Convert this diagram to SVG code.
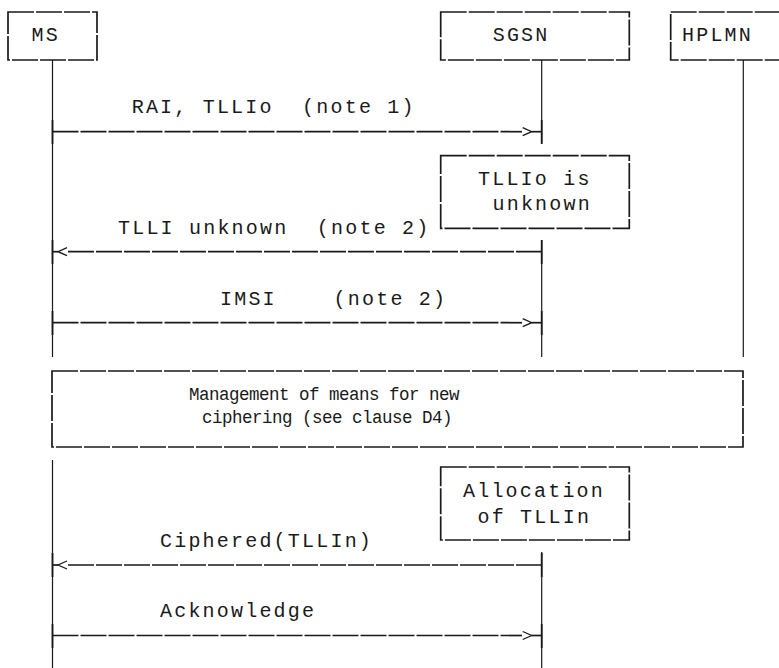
<svg xmlns="http://www.w3.org/2000/svg" width="779" height="668" viewBox="0 0 779 668">
<style>
.bg{fill:#fff}
.box{fill:none;stroke:#1a1a1a;stroke-width:1.7;stroke-dasharray:26 2}
.life{stroke:#1a1a1a;stroke-width:1.2;fill:none}
.msg{stroke:#1a1a1a;stroke-width:1.7;fill:none;stroke-dasharray:26 2}
.tick{stroke:#1a1a1a;stroke-width:1.8}
.head{stroke:#1a1a1a;stroke-width:1.3;fill:none}
.t{font-family:"Liberation Mono","DejaVu Sans Mono",monospace;font-size:20px;letter-spacing:2.2px;fill:#1a1a1a;white-space:pre}
.s{font-family:"Liberation Mono","DejaVu Sans Mono",monospace;font-size:17.5px;letter-spacing:-0.5px;fill:#1a1a1a;white-space:pre}
</style>
<rect class="bg" x="0" y="0" width="779" height="668"/>

<g id="MS">
<rect class="box" x="8" y="12" width="89" height="48"/>
<text class="t" x="31.5" y="41">MS</text>
</g>
<g id="SGSN">
<rect class="box" x="440.7" y="12" width="188.6" height="48"/>
<text class="t" x="492.7" y="41">SGSN</text>
</g>
<g id="HPLMN">
<rect class="box" x="670.7" y="12" width="120" height="48"/>
<text class="t" x="682" y="41">HPLMN</text>
</g>

<g id="tllio_unknown">
<rect class="box" x="440.7" y="155.7" width="188.6" height="72.6"/>
<text class="t" x="478" y="185">TLLIo is</text>
<text class="t" x="492.5" y="210">unknown</text>
</g>

<g id="management">
<rect class="box" x="52" y="371" width="691" height="76"/>
<text class="s" x="189" y="400">Management of means for new</text>
<text class="s" x="202" y="423">ciphering (see clause D4)</text>
</g>

<g id="allocation">
<rect class="box" x="440.7" y="467" width="188.6" height="73"/>
<text class="t" x="463" y="497">Allocation</text>
<text class="t" x="477.5" y="523">of TLLIn</text>
</g>

<g id="lifelines">
<line class="life" x1="52.5" y1="60" x2="52.5" y2="357"/>
<line class="life" x1="52.5" y1="460" x2="52.5" y2="668"/>
<line class="life" x1="541.7" y1="60" x2="541.7" y2="143"/>
<line class="life" x1="541.7" y1="240" x2="541.7" y2="357"/>
<line class="life" x1="541.7" y1="552" x2="541.7" y2="668"/>
<line class="life" x1="743.3" y1="60" x2="743.3" y2="357"/>
</g>

<g id="connectors">
<!-- 1: RAI, TLLIo -->
<line class="tick" x1="52.5" y1="120" x2="52.5" y2="144"/>
<line class="msg" x1="52.5" y1="131.7" x2="522" y2="131.7"/>
<polyline class="head" points="522.7,127.7 531.7,131.7 522.7,135.7"/>
<line class="msg" x1="531.7" y1="131.7" x2="541.7" y2="131.7"/>
<line class="tick" x1="541.7" y1="120" x2="541.7" y2="144"/>
<text class="t" x="131.7" y="113" xml:space="preserve">RAI, TLLIo  (note 1)</text>

<!-- 2: TLLI unknown -->
<line class="tick" x1="52.5" y1="240" x2="52.5" y2="264"/>
<line class="msg" x1="52.5" y1="251.7" x2="58" y2="251.7"/>
<polyline class="head" points="67,247.7 58,251.7 67,255.7"/>
<line class="msg" x1="68" y1="251.7" x2="541.7" y2="251.7"/>
<line class="tick" x1="541.7" y1="240" x2="541.7" y2="264"/>
<text class="t" x="118" y="234" xml:space="preserve">TLLI unknown  (note 2)</text>

<!-- 3: IMSI -->
<line class="tick" x1="52.5" y1="311" x2="52.5" y2="335"/>
<line class="msg" x1="52.5" y1="322.7" x2="522" y2="322.7"/>
<polyline class="head" points="522.7,318.7 531.7,322.7 522.7,326.7"/>
<line class="msg" x1="531.7" y1="322.7" x2="541.7" y2="322.7"/>
<line class="tick" x1="541.7" y1="311" x2="541.7" y2="335"/>
<text class="t" x="220" y="305" xml:space="preserve">IMSI    (note 2)</text>

<!-- 4: Ciphered(TLLIn) -->
<line class="tick" x1="52.5" y1="553" x2="52.5" y2="577"/>
<line class="msg" x1="52.5" y1="565" x2="58" y2="565"/>
<polyline class="head" points="67,561 58,565 67,569"/>
<line class="msg" x1="68" y1="565" x2="541.7" y2="565"/>
<line class="tick" x1="541.7" y1="553" x2="541.7" y2="577"/>
<text class="t" x="160" y="547">Ciphered(TLLIn)</text>

<!-- 5: Acknowledge -->
<line class="tick" x1="52.5" y1="624" x2="52.5" y2="648"/>
<line class="msg" x1="52.5" y1="635.5" x2="522" y2="635.5"/>
<polyline class="head" points="522.7,631.5 531.7,635.5 522.7,639.5"/>
<line class="msg" x1="531.7" y1="635.5" x2="541.7" y2="635.5"/>
<line class="tick" x1="541.7" y1="624" x2="541.7" y2="648"/>
<text class="t" x="160" y="617">Acknowledge</text>
</g>
</svg>
